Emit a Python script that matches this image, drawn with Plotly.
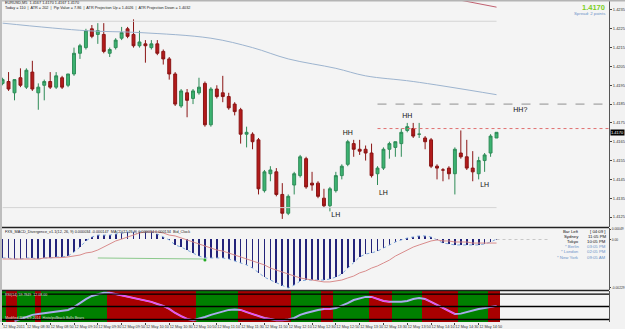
import plotly.graph_objects as go

# ---------------- data ----------------
opens = [1.4196,1.4197,1.4191,1.4199,1.4194,1.4202,1.4191,1.4195,1.4197,1.4194,
         1.4199,1.4195,1.4201,1.4212,1.4215,1.4225,1.4222,1.4222,1.4212,1.4215,
         1.4220,1.4225,1.4222,1.4216,1.4217,1.4215,1.4217,1.4213,1.4209,1.4201,
         1.4184,1.4191,1.4188,1.4191,1.4196,1.4174,1.4193,1.4191,1.4189,1.4185,
         1.4182,1.4169,1.4169,1.4166,1.4139,1.4148,1.4149,1.4137,1.4127,1.4142,
         1.4147,1.4156,1.4143,1.4143,1.4135,1.4131,1.4139,1.4147,1.4153,1.4164,
         1.4161,1.4161,1.4159,1.4148,1.4151,1.4161,1.4162,1.4164,1.4171,1.4172,
         1.4169,1.4167,1.4166,1.4152,1.4150,1.4151,1.4148,1.4159,1.4157,1.4151,
         1.4148,1.4155,1.4159,1.4167]
highs = [1.4199,1.4202,1.4198,1.4204,1.4204,1.4208,1.4196,1.4198,1.4202,1.4202,
         1.4200,1.4201,1.4215,1.4217,1.4225,1.4227,1.4228,1.4228,1.4215,1.4220,
         1.4226,1.4226,1.4230,1.4224,1.4219,1.4219,1.4219,1.4214,1.4210,1.4202,
         1.4193,1.4193,1.4193,1.4199,1.4197,1.4194,1.4195,1.4200,1.4191,1.4186,
         1.4183,1.4173,1.4170,1.4167,1.4150,1.4152,1.4151,1.4143,1.4137,1.4149,
         1.4158,1.4157,1.4149,1.4144,1.4140,1.4141,1.4149,1.4153,1.4166,1.4166,
         1.4166,1.4163,1.4164,1.4152,1.4162,1.4165,1.4165,1.4172,1.4175,1.4175,
         1.4175,1.4168,1.4167,1.4153,1.4151,1.4152,1.4162,1.4171,1.4166,1.4160,
         1.4157,1.4159,1.4169,1.4170]
lows = [1.4195,1.4192,1.4187,1.4194,1.4193,1.4192,1.4182,1.4187,1.4193,1.4193,
        1.4193,1.4194,1.4200,1.4209,1.4214,1.4220,1.4217,1.4212,1.4210,1.4214,
        1.4219,1.4220,1.4215,1.4215,1.4207,1.4214,1.4211,1.4206,1.4198,1.4184,
        1.4183,1.4178,1.4185,1.4190,1.4173,1.4173,1.4188,1.4186,1.4182,1.4179,
        1.4164,1.4162,1.4161,1.4137,1.4138,1.4144,1.4136,1.4124,1.4126,1.4137,
        1.4146,1.4140,1.4139,1.4135,1.4130,1.4128,1.4138,1.4145,1.4152,1.4157,
        1.4158,1.4155,1.4146,1.4142,1.4150,1.4156,1.4157,1.4157,1.4170,1.4167,
        1.4167,1.4161,1.4151,1.4145,1.4144,1.4145,1.4137,1.4156,1.4150,1.4144,
        1.4145,1.4149,1.4157,1.4167]
closes = [1.4198,1.4193,1.4198,1.4195,1.4203,1.4193,1.4194,1.4197,1.4194,1.4200,
          1.4194,1.4201,1.4212,1.4216,1.4224,1.4221,1.4224,1.4213,1.4214,1.4219,
          1.4223,1.4221,1.4216,1.4218,1.4216,1.4217,1.4212,1.4209,1.4201,1.4185,
          1.4192,1.4187,1.4192,1.4194,1.4174,1.4193,1.4189,1.4189,1.4183,1.4181,
          1.4169,1.4170,1.4165,1.4140,1.4149,1.4150,1.4137,1.4127,1.4136,1.4148,
          1.4157,1.4141,1.4142,1.4136,1.4131,1.4140,1.4147,1.4152,1.4165,1.4161,
          1.4160,1.4159,1.4147,1.4151,1.4161,1.4164,1.4165,1.4170,1.4173,1.4168,
          1.4169,1.4165,1.4152,1.4151,1.4150,1.4148,1.4161,1.4157,1.4151,1.4149,
          1.4155,1.4158,1.4168,1.4170]

ma_bars = [0, 14, 23, 35, 42, 48, 56, 61, 69, 83]
ma_vals = [1.4228, 1.4224, 1.4223, 1.4220, 1.4215, 1.4209, 1.4204, 1.4200, 1.4197, 1.4190]
upper_bars = [74, 83]
upper_vals = [1.4242, 1.42365]
day_high = 1.4229
day_low = 1.4130
target_level = 1.4185
hh_level = 1.4172

labels_txt = ["HH", "HH", "HH?", "LH", "LH", "LH"]
labels_bar = [58, 68, 87, 56, 64, 81]
labels_px = [1.41697, 1.41783, 1.41815, 1.41262, 1.41378, 1.41420]

macd = [-8.8,-8.8,-9.3,-9.3,-8.8,-8.8,-9.3,-8.8,-8.8,-8.3,
        -8.3,-7.9,-6.0,-3.6,-0.7,1.2,2.1,2.1,2.1,2.6,
        3.1,3.6,3.6,3.6,3.6,3.6,2.6,1.2,-0.2,-2.6,
        -3.6,-5.0,-6.4,-7.9,-8.8,-8.8,-8.8,-8.8,-9.3,-10.2,
        -11.2,-12.1,-13.6,-15.9,-17.9,-19.3,-20.7,-22.1,-23.1,-21.7,
        -19.8,-19.3,-19.3,-19.3,-19.3,-18.8,-17.9,-16.4,-13.6,-10.7,
        -8.3,-6.9,-6.4,-5.5,-4.0,-2.6,-1.2,-0.2,0.7,1.2,
        1.7,1.7,1.2,-0.2,-1.7,-2.1,-2.6,-2.6,-2.6,-2.6,
        -2.6,-2.1,-1.2,0.2]
signal = [-9.3,-9.3,-9.3,-9.3,-9.3,-9.3,-9.3,-8.8,-8.8,-8.8,
          -8.6,-8.3,-7.9,-7.4,-6.4,-6.0,-5.0,-3.6,-2.1,-0.7,
          0.2,1.2,2.1,3.1,3.6,3.6,3.6,3.1,2.1,1.7,
          0.7,-0.2,-1.2,-2.1,-3.1,-4.0,-5.0,-5.5,-6.4,-7.4,
          -8.3,-9.3,-10.2,-11.2,-12.1,-13.6,-14.5,-15.5,-16.4,-17.4,
          -18.3,-18.8,-19.3,-19.8,-20.2,-20.2,-19.8,-19.3,-18.3,-17.4,
          -15.9,-15.0,-13.6,-12.6,-11.2,-9.8,-7.9,-6.4,-5.0,-3.6,
          -2.6,-1.7,-0.7,-0.2,-0.7,-0.7,-1.2,-1.2,-1.2,-1.7,
          -1.7,-1.7,-1.7,-1.7]
macd_scale = 1e-4
div_bars = [16, 34]
div_vals = [-8.8, -9.3]
macd_ticks = [0.00049, 0.0, -0.00229]

osc = [None,None,3,10,16,23,26,29,32,35,
       37,39,48,61,74,84,90,94,94,90,
       85,81,77,74,71,65,58,52,42,29,
       19,10,6,10,16,23,29,35,39,40,
       39,32,26,19,13,10,6,6,8,13,
       23,29,35,39,42,42,45,52,61,71,
       77,81,81,74,68,65,65,65,68,74,
       77,74,65,55,45,35,26,27,32,39,
       42,45,48,52]
zone = ["G","R","R","G","G","G","R","G","G","G",
        "G","G","G","G","G","G","G","G","R","R",
        "R","R","R","R","R","R","R","R","R","R",
        "R","R","R","G","G","G","G","G","G","G",
        "R","R","R","R","R","R","R","R","R","G",
        "G","G","G","G","R","R","G","G","G","G",
        "G","G","R","R","R","R","G","G","G","G",
        "G","R","R","R","R","R","R","G","G","G",
        "G","G","R","R"]
osc_levels = [90, 50, 8]

tick_bars = [0,4,8,12,16,20,24,28,32,36,40,44,48,52,56,60,64,68,72,76,80]
tick_text = ["12 May 2011","12 May 08:30","12 May 08:50","12 May 09:10","12 May 09:30",
             "12 May 09:50","12 May 10:10","12 May 10:30","12 May 10:50","12 May 11:10",
             "12 May 11:30","12 May 11:50","12 May 12:10","12 May 12:30","12 May 12:50",
             "12 May 13:10","12 May 13:30","12 May 13:50","12 May 14:10","12 May 14:30",
             "12 May 14:50"]
price_ticks = [1.4125,1.4135,1.4145,1.4155,1.4165,1.4175,1.4185,1.4195,1.4205,1.4215,1.4225,1.4235]
last_price = 1.4170

# ---------------- layout helpers ----------------
W, H = 625, 329
def py(px):
    return 1 - px / H
def pxx(px):
    return px / W

bars = list(range(len(opens)))
XR = [-0.1, 101.9]
FONT = "Liberation Sans"

fig = go.Figure()

fig.add_trace(go.Candlestick(
    x=bars, open=opens, high=highs, low=lows, close=closes,
    increasing=dict(fillcolor="#3cb371", line=dict(color="#2e8b57", width=1)),
    decreasing=dict(fillcolor="#b31b1b", line=dict(color="#8b1515", width=1)),
    whiskerwidth=0, xaxis="x", yaxis="y", showlegend=False, hoverinfo="skip"))

fig.add_trace(go.Scatter(x=ma_bars, y=ma_vals, mode="lines", line=dict(color="#9db4cf", width=1, shape="spline"),
                         xaxis="x", yaxis="y", showlegend=False, hoverinfo="skip"))
fig.add_trace(go.Scatter(x=upper_bars, y=upper_vals, mode="lines", line=dict(color="#c06070", width=1),
                         xaxis="x", yaxis="y", showlegend=False, hoverinfo="skip"))
fig.add_trace(go.Scatter(x=[0, 83], y=[day_high, day_high], mode="lines", line=dict(color="#d4d4d4", width=1),
                         xaxis="x", yaxis="y", showlegend=False, hoverinfo="skip"))
fig.add_trace(go.Scatter(x=[0, 83], y=[day_low, day_low], mode="lines", line=dict(color="#d4d4d4", width=1),
                         xaxis="x", yaxis="y", showlegend=False, hoverinfo="skip"))
fig.add_trace(go.Scatter(x=[63, XR[1]], y=[target_level, target_level], mode="lines",
                         line=dict(color="#909090", width=1, dash="dash"),
                         xaxis="x", yaxis="y", showlegend=False, hoverinfo="skip"))
fig.add_trace(go.Scatter(x=[63, XR[1]], y=[hh_level, hh_level], mode="lines",
                         line=dict(color="#e07070", width=1, dash="dot"),
                         xaxis="x", yaxis="y", showlegend=False, hoverinfo="skip"))
fig.add_trace(go.Scatter(x=labels_bar, y=labels_px, mode="text", text=labels_txt,
                         textfont=dict(family=FONT, size=7, color="#111"),
                         xaxis="x", yaxis="y", showlegend=False, hoverinfo="skip"))

# MACD panel
fig.add_trace(go.Bar(x=bars, y=[v * macd_scale for v in macd], width=0.12, marker=dict(color="#23237a", line=dict(width=0)),
                     xaxis="x2", yaxis="y2", showlegend=False, hoverinfo="skip"))
fig.add_trace(go.Scatter(x=bars, y=[v * macd_scale for v in macd], mode="lines",
                         line=dict(color="#7fa8dc", width=1, dash="dot"),
                         xaxis="x2", yaxis="y2", showlegend=False, hoverinfo="skip"))
fig.add_trace(go.Scatter(x=bars, y=[v * macd_scale for v in signal], mode="lines",
                         line=dict(color="#d98c8c", width=1),
                         xaxis="x2", yaxis="y2", showlegend=False, hoverinfo="skip"))
fig.add_trace(go.Scatter(x=div_bars, y=[v * macd_scale for v in div_vals], mode="lines",
                         line=dict(color="#8cc98c", width=1),
                         xaxis="x2", yaxis="y2", showlegend=False, hoverinfo="skip"))
fig.add_trace(go.Scatter(x=[div_bars[1]], y=[div_vals[1] * macd_scale - 0.00005], mode="markers",
                         marker=dict(color="#22aa22", size=3),
                         xaxis="x2", yaxis="y2", showlegend=False, hoverinfo="skip"))
fig.add_trace(go.Scatter(x=[83, 92], y=[0, 0], mode="lines", line=dict(color="#c8c8c8", width=1, dash="dot"),
                         xaxis="x2", yaxis="y2", showlegend=False, hoverinfo="skip"))

# Oscillator panel
zone_col = {"G": "#008000", "R": "#a80000"}
fig.add_trace(go.Bar(x=bars, y=[100] * len(bars), base=0, width=1.0,
                     marker=dict(color=[zone_col[z] for z in zone], line=dict(width=0)),
                     xaxis="x3", yaxis="y3", showlegend=False, hoverinfo="skip"))
fig.add_trace(go.Scatter(x=bars, y=osc, mode="lines", line=dict(color="#a8acec", width=2),
                         xaxis="x3", yaxis="y3", showlegend=False, hoverinfo="skip"))
mag = [v if (zone[i] == "R") else None for i, v in enumerate(osc)]
fig.add_trace(go.Scatter(x=bars, y=mag, mode="lines", line=dict(color="#ff3cf0", width=1.2),
                         xaxis="x3", yaxis="y3", showlegend=False, hoverinfo="skip"))

# ---------------- axes ----------------
XD = [pxx(2), pxx(609)]
common_x = dict(range=XR, domain=XD, showgrid=False, zeroline=False, fixedrange=True, automargin=False)
fig.update_layout(
    width=W, height=H, margin=dict(l=0, r=0, t=0, b=0, autoexpand=False),
    paper_bgcolor="#f2f2f2", plot_bgcolor="#f4f4f4",
    font=dict(family=FONT, size=4, color="#333"),
    bargap=0, barmode="overlay", showlegend=False,
    xaxis=dict(**common_x, anchor="y", showticklabels=False, rangeslider=dict(visible=False)),
    xaxis2=dict(**common_x, anchor="y2", showticklabels=False),
    xaxis3=dict(**common_x, anchor="y3", tickmode="array", tickvals=tick_bars, ticktext=tick_text,
                ticks="outside", ticklen=2, tickcolor="#444", ticklabelposition="outside right",
                tickangle=0, tickfont=dict(family=FONT, size=3.8, color="#333")),
    yaxis=dict(domain=[py(227), py(0)], range=[1.41197, 1.42403], side="right", anchor="x", automargin=False,
               tickmode="array", tickvals=price_ticks, ticktext=["%.4f" % v for v in price_ticks],
               ticks="outside", ticklen=2, tickfont=dict(family=FONT, size=4, color="#333"),
               showgrid=False, zeroline=False, showline=True, linecolor="#555", linewidth=1, fixedrange=True),
    yaxis2=dict(domain=[py(290), py(228)], range=[-0.002404, 0.000547], side="right", anchor="x2", automargin=False,
                tickmode="array", tickvals=macd_ticks, ticktext=["%.5f" % v if v else "0.00" for v in macd_ticks],
                ticks="outside", ticklen=1, tickfont=dict(family=FONT, size=3.3, color="#333"),
                showgrid=False, zeroline=False, showline=True, linecolor="#555", linewidth=1, fixedrange=True),
    yaxis3=dict(domain=[py(322), py(291)], range=[0, 100], side="right", anchor="x3", automargin=False,
                showticklabels=False, showgrid=False, zeroline=False,
                showline=True, linecolor="#555", linewidth=1, fixedrange=True),
)

shapes = []
for lv in osc_levels:
    shapes.append(dict(type="line", xref="paper", yref="y3", x0=XD[0], x1=XD[1], y0=lv, y1=lv,
                       line=dict(color="#000", width=1.3)))
for ypx in (227.5, 290.5):
    shapes.append(dict(type="line", xref="paper", yref="paper", x0=0, x1=pxx(609), y0=py(ypx), y1=py(ypx),
                       line=dict(color="#222", width=1.5)))
shapes.append(dict(type="line", xref="paper", yref="paper", x0=0, x1=1, y0=py(0.5), y1=py(0.5),
                   line=dict(color="#b4b4b4", width=2)))
shapes.append(dict(type="line", xref="paper", yref="paper", x0=pxx(1), x1=pxx(1), y0=py(322), y1=1,
                   line=dict(color="#bdbdbd", width=2)))
fig.update_layout(shapes=shapes)

ann = []
def txt(x, y, s, size=4, color="#222", xanchor="left", bold=False, bg=None):
    a = dict(xref="paper", yref="paper", x=pxx(x), y=py(y), text=("<b>%s</b>" % s) if bold else s,
             showarrow=False, xanchor=xanchor, yanchor="middle",
             font=dict(family=FONT, size=size, color=color))
    if bg:
        a["bgcolor"] = bg
        a["borderpad"] = 0
    ann.append(a)

txt(3, 3, "EURUSD,M5  1.4167 1.4170 1.4167 1.4170", 3.8)
txt(3, 8, "Today = 110  |  ATR = 202  |  Pip Value = 7.86  |  ATR Projection Up = 1.4026  |  ATR Projection Down = 1.4032", 3.8)
txt(607, 7, "%.4f" % last_price, 7.5, "#7ccf1e", "right", True)
txt(607, 14, "Spread: 2 points", 4.3, "#6b93c8", "right")
txt(3, 232, "FXS_MACD_Divergence_v1.1(12, 26, 9) 0.000034 -0.000147  MACD(12,26,9) 0.000034 0.000134  Bid_Clock", 3.8)
txt(3, 295, "RSI(14) 59.7849  12.08.00", 3.6, "#dddddd")
txt(3, 318, "Modified RSI 8/9 2014  Histo/pullback Bulls Bears", 3.6, "#dddddd")

clock_l = ["Bar Left", "Sydney", "Tokyo", "* Berlin", "* London", "* New York"]
clock_r = ["[ 04:09 ]", "11:05 PM", "10:05 PM", "03:05 PM", "02:05 PM", "09:05 AM"]
for k in range(6):
    col = "#111" if k < 3 else "#6b93c8"
    txt(581, 231 + 5.2 * k, clock_l[k], 4.3, col, "right")
    txt(608, 231 + 5.2 * k, clock_r[k], 4.3, col, "right")

ann.append(dict(xref="paper", yref="y", x=pxx(610), y=last_price, text="%.4f" % last_price, showarrow=False,
                xanchor="left", yanchor="middle", bgcolor="#000", borderpad=0,
                font=dict(family=FONT, size=4, color="#fff")))
fig.update_layout(annotations=ann)

fig.write_html("out.html")
